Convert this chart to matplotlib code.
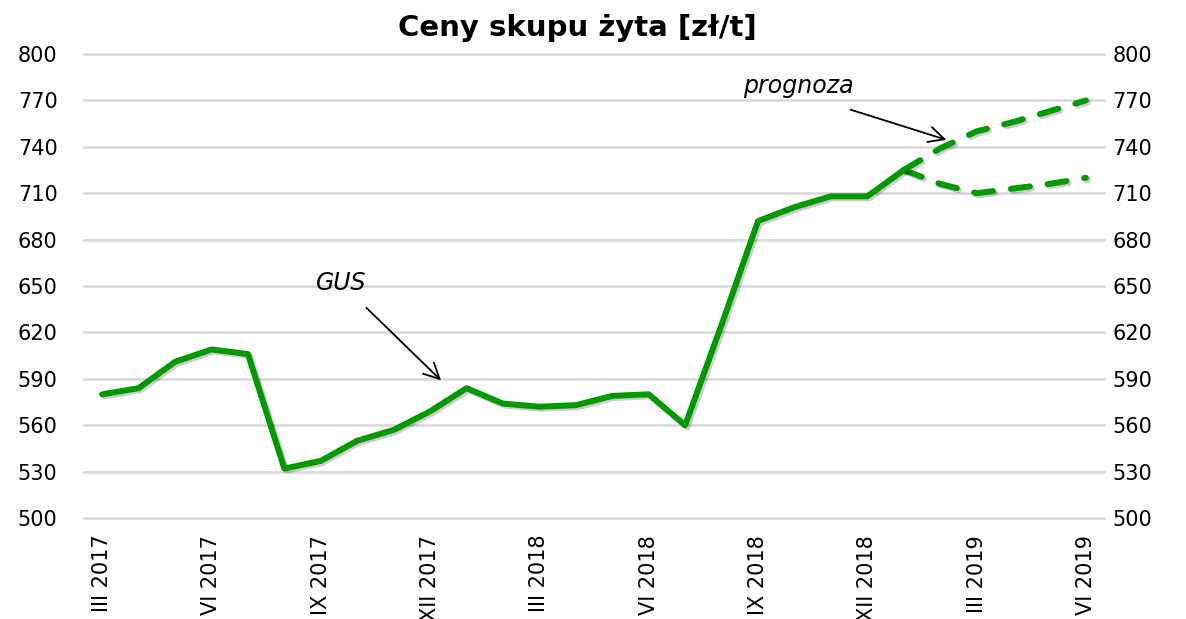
import matplotlib
matplotlib.use("Agg")
import matplotlib.pyplot as plt
import matplotlib.patheffects as pe

# monthly data III 2017 - VI 2019
months = ["III 2017", "IV 2017", "V 2017", "VI 2017", "VII 2017", "VIII 2017",
          "IX 2017", "X 2017", "XI 2017", "XII 2017", "I 2018", "II 2018",
          "III 2018", "IV 2018", "V 2018", "VI 2018", "VII 2018", "VIII 2018",
          "IX 2018", "X 2018", "XI 2018", "XII 2018", "I 2019", "II 2019",
          "III 2019", "IV 2019", "V 2019", "VI 2019"]
gus = [580, 584, 601, 609, 606, 532, 537, 550, 557, 569, 584, 574,
       572, 573, 579, 580, 560, 625, 692, 701, 708, 708, 725]
forecast_high = [725, 739, 750, 756, 763, 770]
forecast_low = [725, 716, 710, 713, 716, 720]
forecast_start = 22
tick_step = 3
yticks = [500, 530, 560, 590, 620, 650, 680, 710, 740, 770, 800]

green = "#009900"
shadow = [pe.SimpleLineShadow(offset=(1.5, -1.5), alpha=0.2), pe.Normal()]

fig = plt.figure(figsize=(11.86, 6.19), dpi=100)
ax = fig.add_axes([0.0708, 0.163, 0.8602, 0.7498])

x_gus = list(range(len(gus)))
x_fc = list(range(forecast_start, forecast_start + len(forecast_high)))

ax.plot(x_fc, forecast_low, color=green, lw=4.3, dashes=(3.2, 3.0),
        dash_capstyle="round", path_effects=shadow, zorder=3)
ax.plot(x_fc, forecast_high, color=green, lw=4.3, dashes=(3.2, 3.0),
        dash_capstyle="round", path_effects=shadow, zorder=3)
ax.plot(x_gus, gus, color=green, lw=4.3, solid_capstyle="round",
        path_effects=shadow, zorder=4)

ax.set_xlim(-0.5, len(months) - 0.5)
ax.set_ylim(500, 800)
ax.set_yticks(yticks)
ax.set_xticks(range(0, len(months), tick_step))
ax.set_xticklabels(months[::tick_step], rotation=90, fontsize=15)
ax.tick_params(axis="y", labelsize=15, length=0, pad=19)
ax.tick_params(axis="x", length=0, pad=12)
ax.grid(axis="y", color="#d9d9d9", lw=2)
for gl in ax.get_ygridlines():
    gl.set_clip_on(False)
ax.set_axisbelow(True)
for s in ax.spines.values():
    s.set_visible(False)

# right axis labels
ax2 = ax.twinx()
ax2.set_ylim(500, 800)
ax2.set_yticks(yticks)
ax2.tick_params(axis="y", labelsize=15, length=0, pad=6)
for s in ax2.spines.values():
    s.set_visible(False)

fig.text(0.487, 1 - 28 / 619, "Ceny skupu żyta [zł/t]", fontsize=21,
         fontweight="bold", ha="center", va="center")

ax.text(6.56, 652, "GUS", fontsize=17, style="italic", ha="center", va="center")
ax.annotate("", xy=(9.3, 589), xytext=(7.25, 636),
            arrowprops=dict(arrowstyle="->", color="black", lw=1.3,
                            mutation_scale=28, shrinkA=0, shrinkB=0))
ax.text(19.12, 779, "prognoza", fontsize=17, style="italic", ha="center", va="center")
ax.annotate("", xy=(23.17, 744.5), xytext=(20.54, 764),
            arrowprops=dict(arrowstyle="->", color="black", lw=1.3,
                            mutation_scale=28, shrinkA=0, shrinkB=0))

fig.savefig("out.png", dpi=100)
